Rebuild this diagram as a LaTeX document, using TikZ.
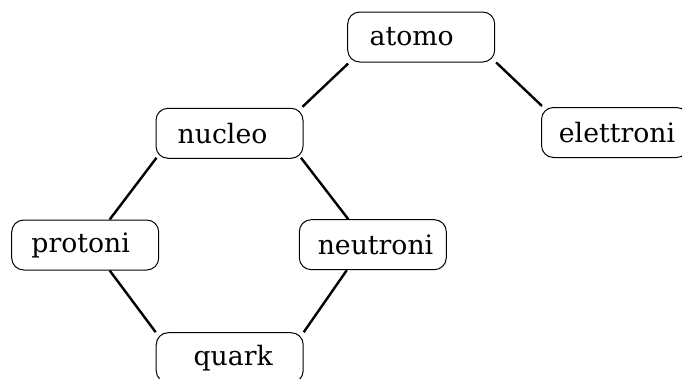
\documentclass[tikz,border=0pt]{standalone}
\usepackage{fontspec}
\setmainfont{DejaVu Serif}
\newcommand{\tshift}[2]{\hspace*{#1pt}#2}
\begin{document}
\begin{tikzpicture}[x=1pt,y=-1pt,
  box/.style={draw, line width=1pt, rounded corners=12pt, minimum width=147pt, minimum height=50pt, inner sep=0pt, font=\fontsize{26.7}{30}\selectfont},
  link/.style={line width=2.4pt}]
\useasboundingbox (0,0) rectangle (682,378);
\node[box] (atomo) at (421.2,37) {\tshift{-19}{atomo}};
\node[box] (elettroni) at (615,132.5) {\tshift{4}{elettroni}};
\node[box] (nucleo) at (229.5,133.3) {\tshift{-14}{nucleo}};
\node[box] (protoni) at (85.2,245) {\tshift{-9}{protoni}};
\node[box] (neutroni) at (372.8,244.7) {\tshift{5.4}{neutroni}};
\node[box] (quark) at (229.7,357.7) {\tshift{7}{quark}};
\draw[link] ([shift={(1,1)}]atomo.south west) -- ([shift={(-1,-1)}]nucleo.north east);
\draw[link] ([shift={(1,0)}]atomo.south east) -- ([shift={(1,-1)}]elettroni.north west);
\draw[link] ([shift={(1,-1)}]nucleo.south west) -- ([xshift=24.5pt]protoni.north);
\draw[link] ([shift={(-2.5,-1)}]nucleo.south east) -- ([xshift=-24.5pt]neutroni.north);
\draw[link] ([xshift=24.5pt]protoni.south) -- (quark.north west);
\draw[link] ([xshift=-26pt]neutroni.south) -- (quark.north east);
\end{tikzpicture}
\end{document}
